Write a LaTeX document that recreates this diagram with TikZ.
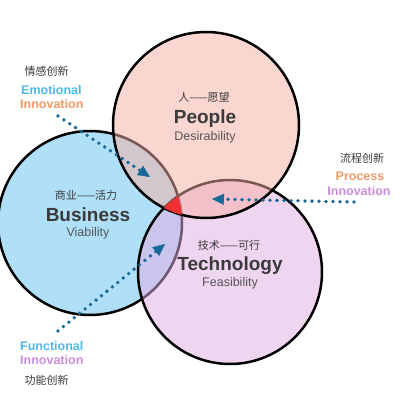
\documentclass[tikz,border=0pt]{standalone}
\usepackage{fontspec}
\setmainfont{Liberation Sans}
\newfontfamily\cjk{Noto Sans CJK SC}
\usetikzlibrary{arrows.meta}

\definecolor{bizblue}{RGB}{176,224,248}
\definecolor{techlilac}{RGB}{226,172,226}
\definecolor{peoplepink}{RGB}{246,174,164}
\definecolor{corered}{RGB}{238,48,52}
\definecolor{arrowblue}{RGB}{24,104,152}
\definecolor{titlegray}{RGB}{58,58,58}
\definecolor{subgray}{RGB}{85,85,85}
\definecolor{tagblue}{RGB}{78,184,234}
\definecolor{tagorange}{RGB}{242,154,104}
\definecolor{tagviolet}{RGB}{204,140,220}

\tikzset{
  ring/.style={line width=2.5pt, draw=black},
  zh/.style={font=\cjk\fontsize{11}{13}\selectfont, text=titlegray},
  title/.style={font=\bfseries\fontsize{19}{22}\selectfont, text=titlegray},
  sub/.style={font=\fontsize{12.5}{15}\selectfont, text=subgray},
  tag/.style={font=\bfseries\fontsize{12.5}{14}\selectfont, inner sep=0pt},
  dotarrow/.style={draw=arrowblue, line width=3.8pt, line cap=round,
    dash pattern=on 0pt off 7pt,
    -{Triangle[length=12pt,width=11pt,line width=0.4pt,fill=arrowblue]}}
}

\begin{document}
\begin{tikzpicture}[x=1pt, y=-1pt]
  \useasboundingbox (0,0) rectangle (400,407);

  %% centres of the three circles
  \coordinate (bizC) at (90,223);
  \coordinate (techC) at (230,272);
  \coordinate (peopleC) at (206,125);

  %% circles
  \draw[ring, fill=bizblue] (bizC) circle[radius=92pt];
  \draw[ring, fill=techlilac, fill opacity=.5] (techC) circle[radius=92pt];
  \draw[ring, fill=peoplepink, fill opacity=.5] (peopleC) circle[radius=93pt];

  %% the common part
  \begin{scope}
    \clip (bizC) circle[radius=92pt];
    \clip (techC) circle[radius=92pt];
    \fill[corered] (peopleC) circle[radius=93pt];
  \end{scope}

  %% texts in the circles
  \node[zh] (peopleZh) at (204,97) {人——愿望};
  \node[title] (people) at (205,119) {People};
  \node[sub] (peopleSub) at (205,137) {Desirability};

  \node[zh] (bizZh) at (86,195) {商业——活力};
  \node[title] (biz) at (88,215) {Business};
  \node[sub] (bizSub) at (88,233) {Viability};

  \node[zh] (techZh) at (229,245) {技术——可行};
  \node[title] (tech) at (230,266) {Technology};
  \node[sub] (techSub) at (230,283) {Feasibility};

  %% emotional innovation
  \node[zh, anchor=west] (emoZh) at (21,71) {情感创新};
  \node[tag, anchor=west, text=tagblue] (emoA) at (21,90) {Emotional};
  \node[tag, anchor=west, text=tagorange] (emoB) at (20,104) {Innovation};
  \coordinate (emoStart) at (58,116);
  \coordinate (emoTip) at (150,177);
  \draw[dotarrow] (emoStart) -- (emoTip);

  %% process innovation
  \node[zh] (procZh) at (362,158) {流程创新};
  \node[tag, text=tagorange] (procA) at (360,176) {Process};
  \node[tag, text=tagviolet] (procB) at (359,191) {Innovation};
  \coordinate (procStart) at (354,202);
  \coordinate (procTip) at (212,199);
  \draw[dotarrow] (procStart) -- (procTip);

  %% functional innovation
  \node[tag, anchor=west, text=tagblue] (funA) at (20,346) {Functional};
  \node[tag, anchor=west, text=tagviolet] (funB) at (20,360) {Innovation};
  \node[zh, anchor=west] (funZh) at (21,380) {功能创新};
  \coordinate (funStart) at (58,331);
  \coordinate (funTip) at (165,244);
  \draw[dotarrow] (funStart) -- (funTip);
\end{tikzpicture}
\end{document}
